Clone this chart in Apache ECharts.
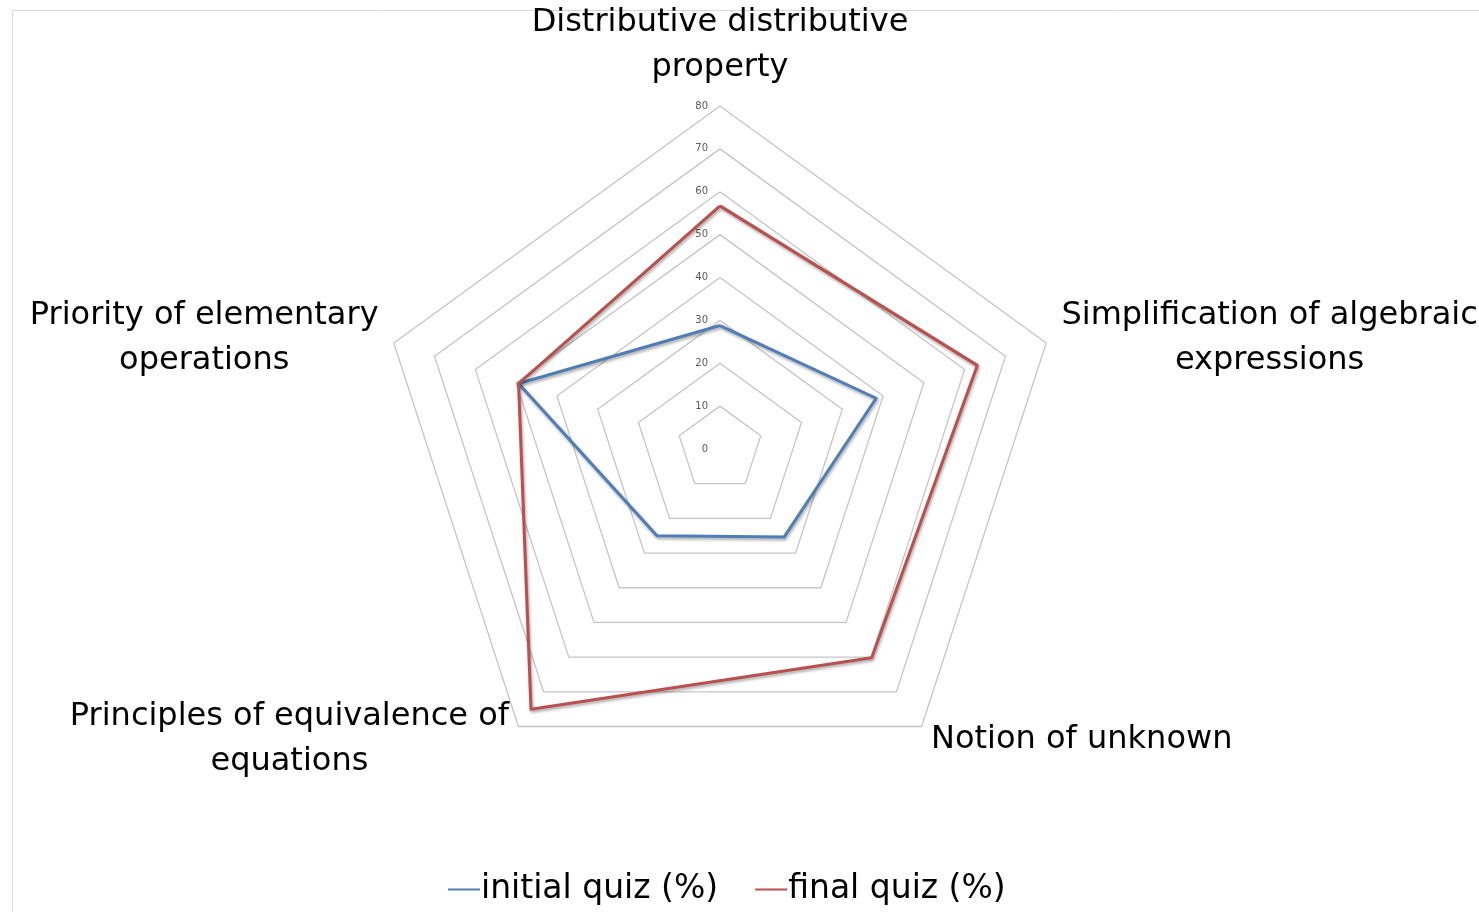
<!DOCTYPE html>
<html>
<head>
<meta charset="utf-8">
<script src="https://cdn.jsdelivr.net/npm/echarts@6/dist/echarts.min.js"></script>
<style>
  html, body { margin: 0; padding: 0; background: #fff; }
  #main { width: 1479px; height: 912px; }
</style>
</head>
<body>
<div id="main"></div>
<script>
// indicators listed in ECharts order (counter-clockwise from the top)
var categories = [
  'Distributive distributive\nproperty',
  'Priority of elementary\noperations',
  'Principles of equivalence of\nequations',
  'Notion of unknown',
  'Simplification of algebraic\nexpressions'
];
var initialQuiz = [28.8, 49.4, 25, 25.4, 38.3];
var finalQuiz = [56.7, 49.4, 75, 60.2, 63.1];
var axisMax = 80;
var seriesNames = ['initial quiz (%)', 'final quiz (%)'];

var myChart = echarts.init(document.getElementById('main'));

var shadow = {
  shadowColor: 'rgba(0,0,0,0.35)',
  shadowBlur: 3,
  shadowOffsetX: 1,
  shadowOffsetY: 2
};

myChart.setOption({
  animation: false,
  textStyle: { fontFamily: 'DejaVu Sans' },
  graphic: [{
    type: 'rect',
    left: 10, top: 8,
    shape: { width: 1500, height: 950 },
    style: { fill: 'none', stroke: '#D9D9D9', lineWidth: 1 },
    silent: true
  }],
  legend: {
    bottom: 1,
    left: 443,
    data: seriesNames,
    icon: 'rect',
    itemWidth: 32,
    itemHeight: 2,
    itemGap: 37,
    textStyle: { fontSize: 33, color: '#000', fontFamily: 'DejaVu Sans', padding: [0, 0, 0, -4] }
  },
  radar: {
    center: [720, 449],
    radius: 343,
    startAngle: 90,
    shape: 'polygon',
    splitNumber: 8,
    nameGap: 16,
    indicator: categories.map(function (c, i) {
      return { name: c, min: 0, max: axisMax, axisLabel: { show: i === 0 } };
    }),
    axisName: {
      color: '#000',
      fontSize: 32,
      fontFamily: 'DejaVu Sans',
      formatter: function (name) {
        return name.split('\n').map(function (l) { return '{c|' + l + '}'; }).join('\n');
      },
      rich: {
        c: { align: 'center', fontSize: 32, lineHeight: 45, color: '#000', fontFamily: 'DejaVu Sans' }
      }
    },
    axisLine: { show: false },
    axisTick: { show: false },
    axisLabel: {
      show: true,
      fontSize: 10,
      color: '#595959',
      margin: 12
    },
    splitLine: { lineStyle: { color: '#C6C6C6', width: 1.3 } },
    splitArea: { show: false }
  },
  series: [{
    type: 'radar',
    symbol: 'none',
    data: [
      {
        name: seriesNames[0],
        value: initialQuiz,
        itemStyle: { color: '#4F7DB5' },
        lineStyle: Object.assign({ color: '#4F7DB5', width: 3 }, shadow)
      },
      {
        name: seriesNames[1],
        value: finalQuiz,
        itemStyle: { color: '#B9504E' },
        lineStyle: Object.assign({ color: '#B9504E', width: 3 }, shadow)
      }
    ]
  }]
});
</script>
</body>
</html>
